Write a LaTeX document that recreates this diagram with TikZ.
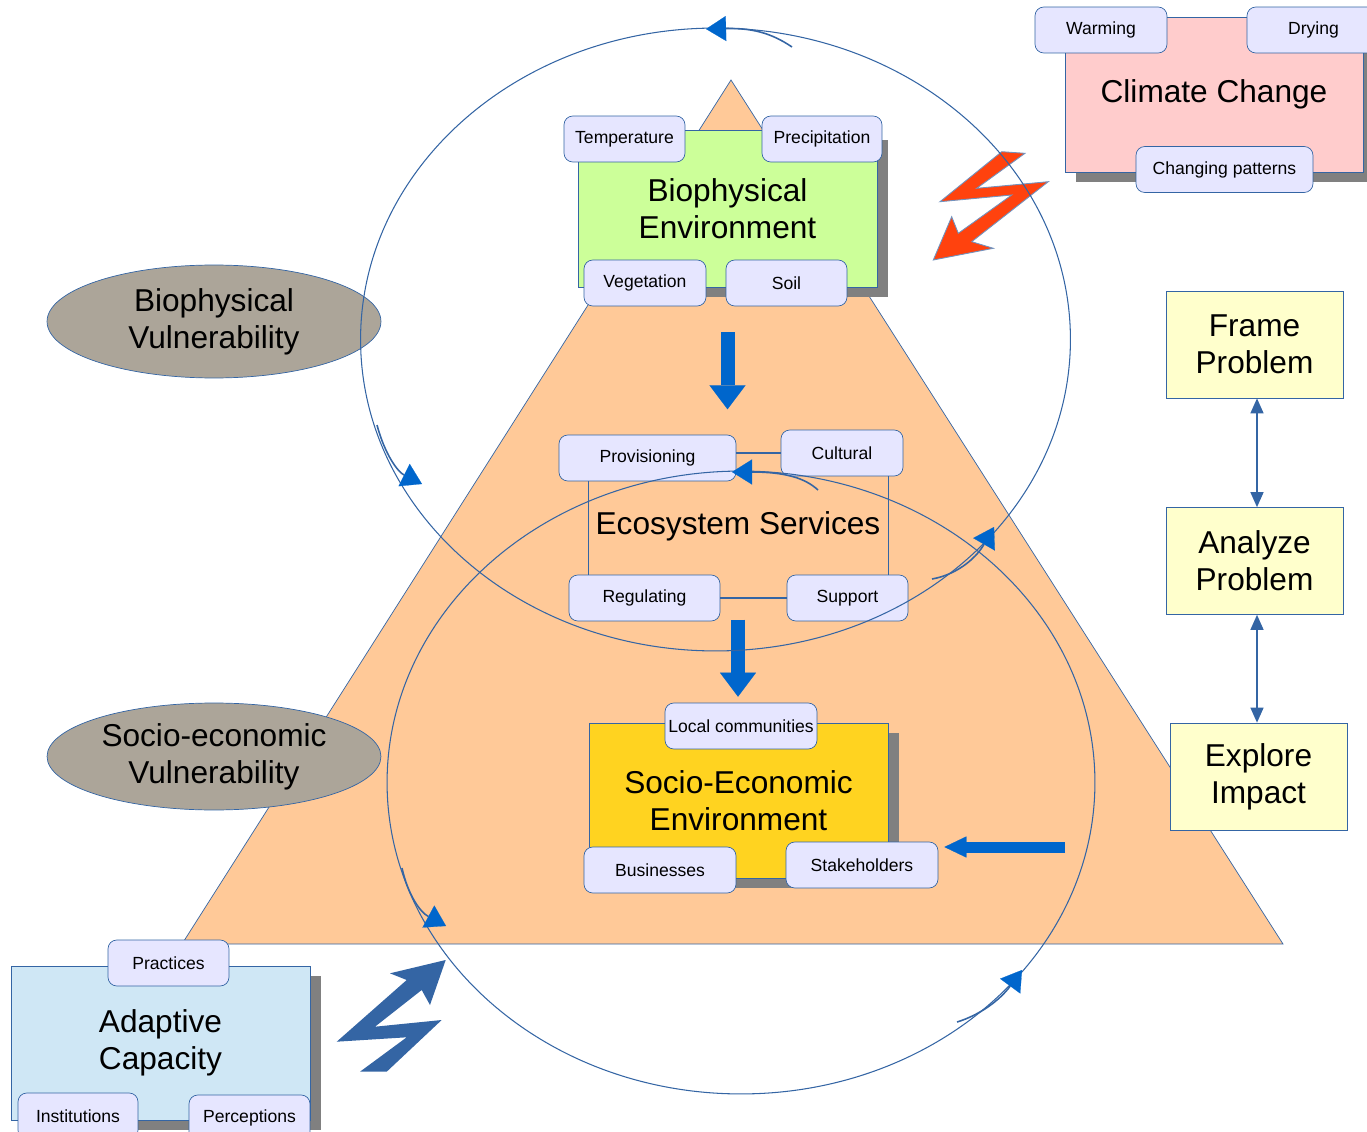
\documentclass[tikz,border=0pt]{standalone}
\usepackage{fontspec}
\setmainfont{Liberation Sans}
\usepackage{tikz}
\usetikzlibrary{arrows.meta, shapes.geometric, shadows}

\definecolor{lineblue}{HTML}{3465A4}
\definecolor{tagfill}{HTML}{E6E6FF}
\definecolor{arrowblue}{HTML}{0066CC}
\definecolor{peach}{HTML}{FFC998}
\definecolor{leaf}{HTML}{CCFF99}
\definecolor{rose}{HTML}{FFCCCC}
\definecolor{gold}{HTML}{FFD320}
\definecolor{sky}{HTML}{CFE7F5}
\definecolor{cream}{HTML}{FFFFCC}
\definecolor{stone}{HTML}{ACA599}
\definecolor{boltred}{HTML}{FF420E}

\tikzset{
  tag/.style={draw=lineblue, fill=tagfill, rounded corners=5pt, minimum height=0.92cm,
    inner sep=0pt, font=\fontsize{10}{12}\selectfont},
  bigbox/.style={draw=lineblue, inner sep=0pt, align=center, font=\fontsize{18}{21}\selectfont,
    drop shadow={shadow xshift=0.22cm, shadow yshift=-0.2cm, fill=black!50, opacity=1}},
  stepbox/.style={draw=lineblue, fill=cream, inner sep=0pt, align=center,
    minimum width=3.54cm, minimum height=2.14cm, font=\fontsize{18}{21}\selectfont},
  vuln/.style={ellipse, draw=lineblue, fill=stone, inner sep=0pt, align=center,
    font=\fontsize{18}{21}\selectfont},
  link/.style={draw=lineblue, line width=0.6pt},
  flow/.style={draw=arrowblue, line width=0.28cm,
    -{Triangle[length=0.48cm, width=0.72cm, line width=0.1pt]}},
  push/.style={draw=arrowblue, line width=0.22cm,
    -{Triangle[length=0.44cm, width=0.42cm, line width=0.1pt]}},
  twoway/.style={draw=lineblue, line width=0.8pt,
    {Triangle[length=0.3cm, width=0.26cm]}-{Triangle[length=0.3cm, width=0.26cm]}},
  orbit/.style={draw=lineblue, line width=0.6pt},
  turn/.style={draw=lineblue, line width=0.9pt,
    -{Triangle[length=0.4cm, width=0.5cm, line width=0.1pt, color=arrowblue]}}
}

\begin{document}
\begin{tikzpicture}[x=0.02cm, y=-0.02cm]
    \useasboundingbox (0,0) rectangle (1367,1132);

    \draw [lineblue, fill=peach] (731,80) -- (1283,944) -- (182,944) -- cycle;

    % boxes with their tags
    \node [bigbox, fill=leaf, minimum width=5.98cm, minimum height=3.14cm] (bioenv)
      at (727.5,208.5) {Biophysical\\Environment};
    \node [tag, minimum width=2.42cm] (temp) at (624.5,139) {Temperature};
    \node [tag, minimum width=2.4cm] (prec) at (822,139) {Precipitation};
    \node [tag, minimum width=2.44cm] (veg) at (645,283) {Vegetation};
    \node [tag, minimum width=2.42cm] (soil) at (786.5,283) {Soil};

    \node [bigbox, fill=rose, minimum width=5.96cm, minimum height=3.1cm] (climate)
      at (1214,94.5) {Climate Change};
    \node [tag, minimum width=2.64cm] (warm) at (1101,30) {Warming};
    \node [tag, minimum width=2.66cm] (dry) at (1313.5,30) {Drying};
    \node [tag, minimum width=3.54cm] (pattern) at (1224.5,169.5) {Changing patterns};

    \node [bigbox, fill=gold, minimum width=5.98cm, minimum height=3.1cm] (socenv)
      at (738.5,800.5) {Socio-Economic\\Environment};
    \node [tag, minimum width=3.04cm] (locc) at (741,726) {Local communities};
    \node [tag, minimum width=3.04cm] (bus) at (660,870) {Businesses};
    \node [tag, minimum width=3.04cm] (stake) at (862,865) {Stakeholders};

    \node [bigbox, fill=sky, minimum width=5.98cm, minimum height=3.08cm] (adapt)
      at (160.5,1043) {Adaptive\\Capacity};
    \node [tag, minimum width=2.42cm] (prac) at (168.5,963) {Practices};
    \node [tag, minimum width=2.4cm] (inst) at (78,1116) {Institutions};
    \node [tag, minimum width=2.42cm] (perc) at (249.5,1118) {Perceptions};

    % ecosystem services
    \node [font=\fontsize{18}{21}\selectfont] (eco) at (738,526) {Ecosystem Services};
    \node [tag, minimum width=3.54cm] (prov) at (647.5,458) {Provisioning};
    \node [tag, minimum width=2.44cm] (cult) at (842,453) {Cultural};
    \node [tag, minimum width=3.02cm] (reg) at (644.5,598) {Regulating};
    \node [tag, minimum width=2.42cm] (supp) at (847.5,598) {Support};
    \draw [link] ([xshift=0.6cm]prov.south west) -- ([xshift=0.6cm]prov.south west |- reg.north);
    \draw [link] ([xshift=-0.3cm]cult.south east) -- ([xshift=-0.3cm]cult.south east |- supp.north);
    \draw [link] (cult.west) -- (cult.west -| prov.east);
    \draw [link] (reg.east) -- (supp.west);

    \node [vuln, minimum width=6.68cm, minimum height=2.26cm] (biovul)
      at (214,321.5) {Biophysical\\Vulnerability};
    \node [vuln, minimum width=6.68cm, minimum height=2.14cm] (socvul)
      at (214,756.5) {Socio-economic\\Vulnerability};

    % steps on the right
    \node [stepbox] (frame) at (1254.5,344.5) {Frame\\Problem};
    \node [stepbox] (analyze) at (1254.5,561) {Analyze\\Problem};
    \node [stepbox] (explore) at (1258.5,776.5) {Explore\\Impact};
    \draw [twoway] ([xshift=0.05cm]frame.south) -- ([xshift=0.05cm]analyze.north);
    \draw [twoway] ([xshift=0.05cm]analyze.south) -- ([xshift=0.05cm]analyze.south |- explore.north);

    % block arrows
    \draw [flow] ([yshift=-0.9cm]bioenv.south) -- ([yshift=-2.44cm]bioenv.south);
    \draw [flow] ([xshift=-0.06cm, yshift=1.66cm]locc.north) -- ([xshift=-0.06cm, yshift=0.12cm]locc.north);
    \coordinate (pushfrom) at (1065,847);
    \draw [push, shorten >=0.12cm] (pushfrom) -- (pushfrom -| stake.east);

    % lightning bolts
    \filldraw [fill=boltred, draw=lineblue!70, line width=0.5pt]
      (1001.7,151.7) -- (1025,153.3) -- (976.7,188.3) -- (1048.3,181.7)
      -- (971.7,241.7) -- (993.3,248.3) -- (933.3,260) -- (951.7,216.7)
      -- (958.3,233.3) -- (1011.7,195) -- (940,201.7) -- cycle;
    \fill [lineblue]
      (445.7,960) -- (430,1005) -- (421.7,990) -- (375,1026.7) -- (441.7,1020)
      -- (386.7,1071.7) -- (360,1071.7) -- (406.7,1037.3) -- (336.7,1041.7)
      -- (406.7,980) -- (390,973.3) -- cycle;

    % cycles
    \draw [orbit] (715.5,339.5) ellipse [x radius=7.1cm, y radius=6.23cm];
    \draw [orbit] (741,782.5) ellipse [x radius=7.08cm, y radius=6.23cm];
    \draw [turn] (792,47) .. controls (770,32) and (750,28) .. (706,29);
    \draw [turn] (377,425) .. controls (385,455) and (398,472) .. (422,484);
    \draw [turn] (932,579) .. controls (955,575) and (975,560) .. (994,527);
    \draw [turn] (818,490) .. controls (805,478) and (785,472) .. (732,472);
    \draw [turn] (402,868) .. controls (408,895) and (420,912) .. (446,926);
    \draw [turn] (957,1022) .. controls (980,1015) and (1000,1000) .. (1022,970);
  \end{tikzpicture}
\end{document}
